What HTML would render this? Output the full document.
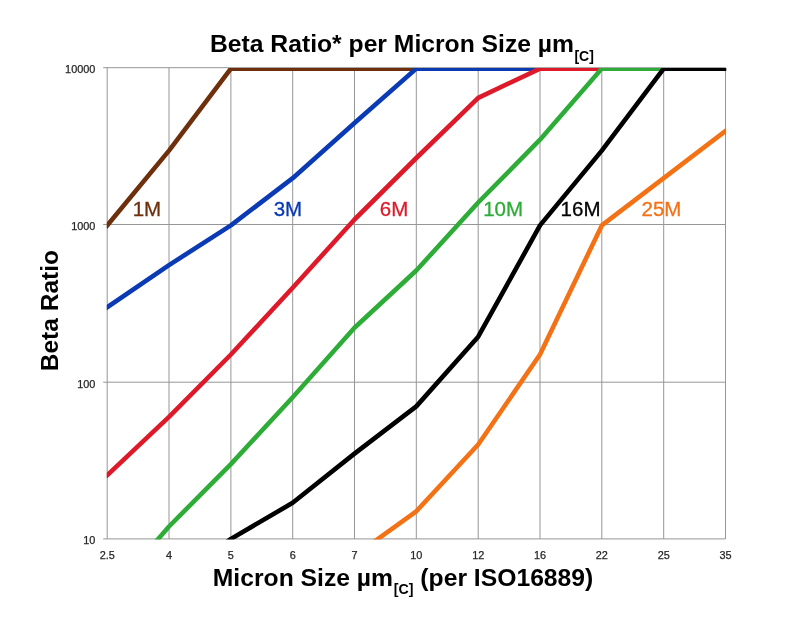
<!DOCTYPE html><html><head><meta charset="utf-8"><title>Beta Ratio per Micron Size</title>
<style>html,body{margin:0;padding:0;background:#fff}body{width:800px;height:630px;overflow:hidden}svg{display:block}text{font-family:"Liberation Sans",sans-serif}</style></head><body>
<svg width="800" height="630" viewBox="0 0 800 630">
<rect width="800" height="630" fill="#fff"/>
<defs><clipPath id="plot"><rect x="106.8" y="68.05" width="619.3" height="471.34999999999997"/></clipPath></defs>
<g stroke="#969696" stroke-width="1" fill="none"><line x1="107.2" y1="67.7" x2="107.2" y2="538.9"/><line x1="169.0" y1="67.7" x2="169.0" y2="538.9"/><line x1="230.9" y1="67.7" x2="230.9" y2="538.9"/><line x1="292.7" y1="67.7" x2="292.7" y2="538.9"/><line x1="354.5" y1="67.7" x2="354.5" y2="538.9"/><line x1="416.3" y1="67.7" x2="416.3" y2="538.9"/><line x1="478.2" y1="67.7" x2="478.2" y2="538.9"/><line x1="540.0" y1="67.7" x2="540.0" y2="538.9"/><line x1="601.8" y1="67.7" x2="601.8" y2="538.9"/><line x1="663.7" y1="67.7" x2="663.7" y2="538.9"/><line x1="725.5" y1="67.7" x2="725.5" y2="538.9"/><line x1="103.2" y1="538.9" x2="725.5" y2="538.9"/><line x1="103.2" y1="382.2" x2="725.5" y2="382.2"/><line x1="103.2" y1="224.5" x2="725.5" y2="224.5"/><line x1="103.2" y1="67.7" x2="725.5" y2="67.7"/></g>
<g clip-path="url(#plot)" fill="none" stroke-width="4.6" stroke-linejoin="round" stroke-linecap="square">
<polyline stroke="#6e2f0c" points="107.2,225.4 169.0,150.6 230.9,68.6 292.7,68.6 354.5,68.6 416.3,68.6 478.2,68.6 540.0,68.6 601.8,68.6 663.7,68.6 725.5,68.6"/>
<polyline stroke="#0a3ab4" points="107.2,307.3 169.0,265.1 230.9,225.4 292.7,178.2 354.5,123.0 416.3,68.6 478.2,68.6 540.0,68.6 601.8,68.6 663.7,68.6 725.5,68.6"/>
<polyline stroke="#de1a2a" points="107.2,475.2 169.0,416.9 230.9,354.5 292.7,287.7 354.5,219.5 416.3,158.0 478.2,97.9 540.0,68.6 601.8,68.6 663.7,68.6 725.5,68.6"/>
<polyline stroke="#2dac37" points="107.2,598.0 169.0,526.5 230.9,464.1 292.7,397.3 354.5,327.8 416.3,270.5 478.2,202.5 540.0,139.7 601.8,68.6 663.7,68.6 725.5,68.6"/>
<polyline stroke="#000000" points="107.2,648.5 169.0,586.1 230.9,538.9 292.7,502.8 354.5,453.6 416.3,406.4 478.2,336.7 540.0,225.4 601.8,150.6 663.7,68.6 725.5,68.6"/>
<polyline stroke="#f47216" points="107.2,742.9 169.0,695.7 230.9,648.5 292.7,610.4 354.5,555.8 416.3,511.3 478.2,444.5 540.0,354.5 601.8,225.4 663.7,178.2 725.5,131.0"/>
</g>
<g font-size="10.9" fill="#262626" stroke="#262626" stroke-width="0.25">
<text x="107.2" y="559.2" text-anchor="middle">2.5</text>
<text x="169.0" y="559.2" text-anchor="middle">4</text>
<text x="230.9" y="559.2" text-anchor="middle">5</text>
<text x="292.7" y="559.2" text-anchor="middle">6</text>
<text x="354.5" y="559.2" text-anchor="middle">7</text>
<text x="416.3" y="559.2" text-anchor="middle">10</text>
<text x="478.2" y="559.2" text-anchor="middle">12</text>
<text x="540.0" y="559.2" text-anchor="middle">16</text>
<text x="601.8" y="559.2" text-anchor="middle">22</text>
<text x="663.7" y="559.2" text-anchor="middle">25</text>
<text x="725.5" y="559.2" text-anchor="middle">35</text>
<text x="95.4" y="544.2" text-anchor="end">10</text>
<text x="95.4" y="387.5" text-anchor="end">100</text>
<text x="95.4" y="229.8" text-anchor="end">1000</text>
<text x="95.4" y="73.0" text-anchor="end">10000</text>
</g>
<g font-size="20.5" stroke-width="0.3">
<text x="132.7" y="216.3" fill="#6e2f0c" stroke="#6e2f0c">1M</text>
<text x="273.7" y="216.3" fill="#0a3ab4" stroke="#0a3ab4">3M</text>
<text x="379.8" y="216.3" fill="#de1a2a" stroke="#de1a2a">6M</text>
<text x="483.2" y="216.3" fill="#2dac37" stroke="#2dac37">10M</text>
<text x="560.6" y="216.3" fill="#000" stroke="#000">16M</text>
<text x="641.5" y="216.3" fill="#f47216" stroke="#f47216">25M</text>
</g>
<text x="210" y="52" font-size="24.7" font-weight="bold" fill="#000">Beta Ratio* per Micron Size µm<tspan font-size="14.0" dy="9.0" dx="0.4">[C]</tspan></text>
<text x="212.8" y="586.3" font-size="24.7" font-weight="bold" fill="#000">Micron Size µm<tspan font-size="14.2" dy="7.9" dx="0.8">[C]</tspan><tspan dy="-7.9"> (per ISO16889)</tspan></text>
<text transform="translate(57.6,371.2) rotate(-90)" font-size="24.5" font-weight="bold" fill="#000">Beta Ratio</text>
</svg></body></html>
